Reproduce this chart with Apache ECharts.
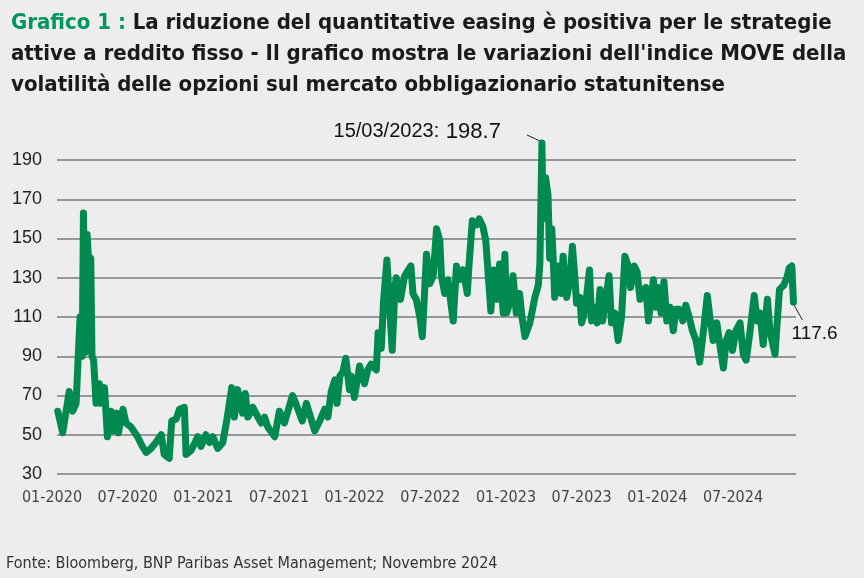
<!DOCTYPE html>
<html>
<head>
<meta charset="utf-8">
<title>Indice MOVE</title>
<script src="https://cdn.jsdelivr.net/npm/echarts@6/dist/echarts.min.js"></script>
<style>
html, body { margin: 0; padding: 0; background: #ededed; }
#chart { width: 864px; height: 578px; }
</style>
</head>
<body>
<div id="chart"></div>
<script>
// MOVE index, points
var dates = [
    // 2020
    '2020-01-03','2020-01-15','2020-01-31','2020-02-08','2020-02-16','2020-02-20','2020-02-25','2020-03-01',
    '2020-03-04','2020-03-09','2020-03-13','2020-03-17','2020-03-22','2020-03-25','2020-03-29','2020-04-04',
    '2020-04-12','2020-04-16','2020-04-24','2020-05-01','2020-05-10','2020-05-16','2020-05-24','2020-05-28',
    '2020-06-08','2020-06-15','2020-06-27','2020-07-13','2020-07-25','2020-08-03','2020-08-15','2020-08-27',
    '2020-09-09','2020-09-16','2020-09-28','2020-10-04','2020-10-15','2020-10-23','2020-11-04','2020-11-08',
    '2020-11-20','2020-12-06','2020-12-14','2020-12-26',
    // 2021
    '2021-01-04','2021-01-12','2021-01-24','2021-02-05',
    '2021-02-13','2021-02-25','2021-03-03','2021-03-11','2021-03-23','2021-03-30','2021-04-05','2021-04-17',
    '2021-04-29','2021-05-07','2021-05-15','2021-05-23','2021-06-09','2021-06-20','2021-07-02','2021-07-22',
    '2021-07-30','2021-08-15','2021-08-25','2021-09-14','2021-09-26','2021-10-08','2021-10-16','2021-10-24',
    '2021-11-02','2021-11-07','2021-11-14','2021-11-21','2021-11-28','2021-12-07','2021-12-11','2021-12-19',
    // 2022
    '2022-01-01','2022-01-13','2022-01-21','2022-01-29','2022-02-10','2022-02-14','2022-02-21','2022-02-26',
    '2022-03-06','2022-03-19','2022-03-23','2022-03-26','2022-03-29','2022-04-08','2022-04-18','2022-05-03',
    '2022-05-08','2022-05-16','2022-05-25','2022-05-31','2022-06-10','2022-06-18','2022-06-26','2022-07-04',
    '2022-07-12','2022-07-16','2022-07-24','2022-08-01','2022-08-07','2022-08-14','2022-08-22','2022-08-30',
    '2022-09-07','2022-09-17','2022-09-21','2022-09-29','2022-10-09','2022-10-16','2022-10-25','2022-11-01',
    '2022-11-07','2022-11-13','2022-11-20','2022-11-28','2022-12-04','2022-12-13','2022-12-17','2022-12-21',
    '2022-12-29',
    // 2023
    '2023-01-06','2023-01-14','2023-01-22','2023-01-28','2023-02-04','2023-02-08','2023-02-15',
    '2023-02-26','2023-03-06','2023-03-10','2023-03-13','2023-03-15','2023-03-18','2023-03-24','2023-03-30',
    '2023-04-03','2023-04-08','2023-04-12','2023-04-15','2023-04-24','2023-05-01','2023-05-05','2023-05-14',
    '2023-05-22','2023-05-28','2023-06-03','2023-06-07','2023-06-15','2023-06-19','2023-06-27','2023-07-08',
    '2023-07-13','2023-07-21','2023-07-27','2023-08-03','2023-08-09','2023-08-17','2023-08-25','2023-08-31',
    '2023-09-08','2023-09-16','2023-09-24','2023-10-02','2023-10-10','2023-10-16','2023-10-25','2023-11-01',
    '2023-11-08','2023-11-16','2023-11-22','2023-11-28','2023-12-10','2023-12-16','2023-12-22','2023-12-29',
    // 2024
    '2024-01-05','2024-01-12','2024-01-20','2024-01-28','2024-02-03','2024-02-11','2024-02-19','2024-02-26',
    '2024-03-05','2024-03-13','2024-03-22','2024-03-31','2024-04-10','2024-04-18','2024-04-24','2024-05-02',
    '2024-05-11','2024-05-19','2024-05-27','2024-06-03','2024-06-10','2024-06-18','2024-06-26','2024-07-06',
    '2024-07-14','2024-07-21','2024-07-29','2024-08-10','2024-08-17','2024-08-24','2024-09-01','2024-09-11',
    '2024-09-17','2024-09-29','2024-10-10','2024-10-20','2024-10-28','2024-11-03','2024-11-09','2024-11-13'
];
var values = [
    // 2020
    62, 51, 72, 62, 66, 86, 110, 90,
    163, 92, 152, 138, 140, 90, 88, 66,
    76, 66, 74, 49, 62, 52, 61, 51,
    63, 56, 54, 49, 44, 41, 43, 46,
    50, 40, 38, 57, 58, 63, 64, 40,
    42, 49, 44, 50,
    // 2021
    46, 49, 43, 46,
    56, 74, 59, 73, 61, 71, 59, 64,
    59, 56, 59, 54, 49, 62, 56, 70,
    66, 57, 66, 52, 57, 63, 59, 72,
    78, 66, 80, 82, 89, 73, 80, 69,
    // 2022
    85, 76, 83, 86, 83, 102, 94, 118,
    139, 93, 112, 126, 130, 119, 131, 136,
    122, 119, 110, 100, 142, 127, 131, 155,
    149, 131, 122, 129, 119, 108, 136, 129,
    134, 122, 136, 159, 157, 160, 156, 149,
    131, 113, 134, 119, 137, 112, 142, 112,
    117,
    // 2023
    131, 112, 122, 110, 100, 99, 107,
    120, 126, 137, 173, 198.7, 160, 181, 172,
    140, 155, 137, 120, 136, 122, 141, 120,
    129, 146, 130, 117, 120, 107, 113, 134,
    108, 115, 107, 124, 108, 119, 131, 107,
    112, 98, 110, 141, 136, 125, 136, 133,
    119, 124, 125, 108, 129, 115, 125, 112,
    // 2024
    128, 108, 115, 103, 114, 114, 108, 116,
    110, 103, 98, 87, 105, 121, 110, 98,
    107, 95, 84, 98, 102, 93, 103, 107,
    91, 88, 100, 121, 108, 112, 96, 119,
    103, 91, 124, 126, 130, 135, 136, 117.6
];
var xTickLabels = ['01-2020','07-2020','01-2021','07-2021','01-2022','07-2022','01-2023','07-2023','01-2024','07-2024'];
var yMin = 30, yMax = 190, yStep = 20;
var peakDate = '2023-03-15', peakValue = 198.7;

var green = '#008a50';
var narrow = "'Liberation Sans Narrow', 'DejaVu Sans Condensed', sans-serif";
var plain = "'Liberation Sans', 'Noto Sans', sans-serif";

// month position on the axis: 0 = start of January 2020
function monthPos(s) {
    var p = s.split('-');
    var y = +p[0], m = +p[1], d = +p[2];
    var dim = new Date(y, m, 0).getDate();
    return (y - 2020) * 12 + (m - 1) + (d - 1) / dim;
}

var seriesData = dates.map(function (d, i) { return [monthPos(d), values[i]]; });

var chart = echarts.init(document.getElementById('chart'));
chart.setOption({
    backgroundColor: '#ededed',
    animation: false,
    title: {
        left: 6,
        top: 3,
        text: '{g|Grafico 1 :} {b|La riduzione del quantitative easing è positiva per le strategie}\n' +
              '{b|attive a reddito fisso -} {r|Il grafico mostra le variazioni dell\'indice MOVE della}\n' +
              '{r|volatilità delle opzioni sul mercato obbligazionario statunitense}',
        textStyle: {
            fontFamily: narrow,
            fontSize: 22,
            lineHeight: 31,
            color: '#1a1a1a',
            rich: {
                g: { color: '#00965e', fontFamily: narrow, fontSize: 22, lineHeight: 31 },
                b: { color: '#1a1a1a', fontWeight: 'bold', fontFamily: narrow, fontSize: 22, lineHeight: 31 },
                r: { color: '#1a1a1a', fontFamily: narrow, fontSize: 22, lineHeight: 31 }
            }
        }
    },
    grid: { left: 57, right: 68, top: 160, bottom: 104 },
    xAxis: {
        type: 'value',
        min: 0,
        max: 58.6,
        interval: 6,
        axisLine: { show: false },
        axisTick: { show: false },
        splitLine: { show: false },
        axisLabel: {
            margin: 16,
            fontFamily: narrow,
            fontSize: 16,
            color: '#444',
            padding: [0, 10, 0, 0],
            showMaxLabel: false,
            formatter: function (v) {
                var i = Math.round(v / 6);
                if (Math.abs(v - i * 6) > 0.01) return '';
                return xTickLabels[i] || '';
            }
        }
    },
    yAxis: {
        type: 'value',
        min: yMin,
        max: yMax,
        interval: yStep,
        axisLine: { show: false },
        axisTick: { show: false },
        axisLabel: { margin: 15, fontFamily: plain, fontSize: 18, color: '#222' },
        splitLine: { lineStyle: { color: '#7a7a7a', width: 1.5 } }
    },
    series: [{
        type: 'line',
        data: seriesData,
        symbol: 'none',
        clip: false,
        lineStyle: { color: green, width: 7, join: 'round', cap: 'round' }
    }]
});

// annotations placed from the data points
var peak = chart.convertToPixel({ gridIndex: 0 }, [monthPos(peakDate), peakValue]);
var lastPt = seriesData[seriesData.length - 1];
var last = chart.convertToPixel({ gridIndex: 0 }, lastPt);

chart.setOption({
    graphic: [
        {
            type: 'text',
            right: 864 - (peak[0] - 41),
            top: peak[1] - 22,
            style: {
                text: '{d|' + peakDate.split('-').reverse().join('/') + ':}  {v|' + peakValue.toFixed(1) + '}',
                rich: {
                    d: { fontFamily: plain, fontSize: 20, fill: '#111' },
                    v: { fontFamily: plain, fontSize: 22, fill: '#111' }
                }
            }
        },
        {
            type: 'line',
            shape: { x1: peak[0] - 15, y1: peak[1] - 8, x2: peak[0], y2: peak[1] - 1 },
            style: { stroke: '#222', lineWidth: 1 }
        },
        {
            type: 'line',
            shape: { x1: last[0], y1: last[1] + 2, x2: last[0] + 9, y2: last[1] + 18 },
            style: { stroke: '#222', lineWidth: 1 }
        },
        {
            type: 'text',
            left: last[0] - 2,
            top: last[1] + 22,
            style: { text: lastPt[1].toFixed(1), fontFamily: plain, fontSize: 19, fill: '#111' }
        },
        {
            type: 'text',
            left: 6,
            top: 556,
            style: {
                text: 'Fonte: Bloomberg, BNP Paribas Asset Management; Novembre 2024',
                fontFamily: narrow, fontSize: 16, fill: '#333'
            }
        }
    ]
});
</script>
</body>
</html>
